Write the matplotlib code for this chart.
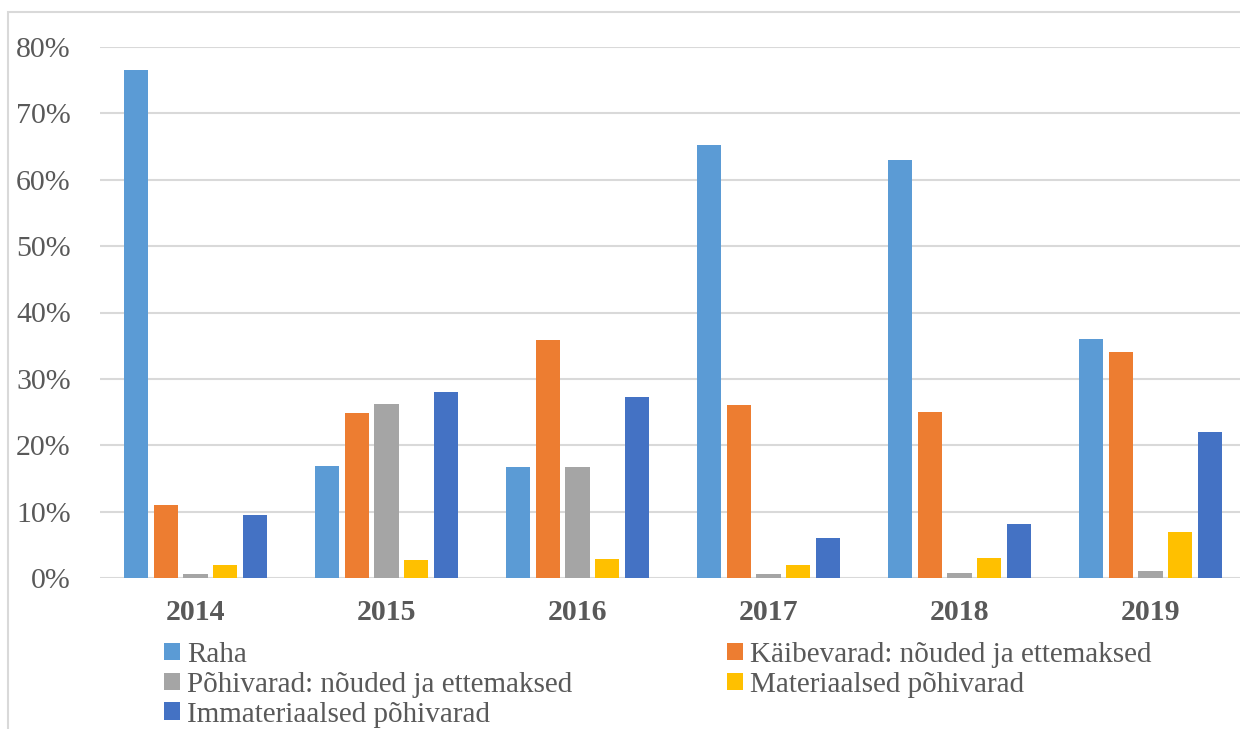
import matplotlib
matplotlib.use("Agg")
import matplotlib.pyplot as plt
import numpy as np
from matplotlib.patches import Rectangle, Patch

plt.rcParams['font.family'] = ['Liberation Serif', 'DejaVu Serif']

years = ["2014", "2015", "2016", "2017", "2018", "2019"]
raha = [76.6, 16.9, 16.7, 65.3, 63.0, 36.0]
kaibevarad = [11.0, 24.8, 35.8, 26.0, 25.0, 34.0]
pohivarad = [0.6, 26.2, 16.7, 0.6, 0.8, 1.0]
materiaalsed = [2.0, 2.7, 2.9, 2.0, 3.0, 6.9]
immateriaalsed = [9.5, 28.0, 27.2, 6.0, 8.2, 22.0]

series_names = ["Raha", "Käibevarad: nõuded ja ettemaksed",
                "Põhivarad: nõuded ja ettemaksed", "Materiaalsed põhivarad",
                "Immateriaalsed põhivarad"]
series_values = [raha, kaibevarad, pohivarad, materiaalsed, immateriaalsed]
colors = ["#5B9BD5", "#ED7D31", "#A5A5A5", "#FFC000", "#4472C4"]

W, H = 1240, 729
fig = plt.figure(figsize=(W / 100, H / 100), dpi=100)

# outer chart frame (runs off the right and bottom edges)
fig.patches.append(Rectangle((8 / W, -0.1), 1.2, (H - 12) / H + 0.1,
                             transform=fig.transFigure, fill=False,
                             edgecolor="#D9D9D9", linewidth=1.5))

ax = fig.add_axes([100 / W, (H - 578) / H, 1146 / W, (578 - 47) / H])

x = np.arange(len(years))
bw = 0.126
step = 0.155
for k, (vals, col, name) in enumerate(zip(series_values, colors, series_names)):
    ax.bar(x + (k - 2) * step, np.array(vals) / 100, width=bw, color=col,
           label=name, zorder=3)

ax.set_xlim(-0.5, len(years) - 0.5)
ax.set_ylim(0, 0.8)
ax.set_yticks(np.arange(0, 0.81, 0.1))
ax.set_yticklabels([f"{int(round(v * 100))}%" for v in np.arange(0, 0.81, 0.1)])
ax.yaxis.grid(True, color="#D9D9D9", linewidth=1.5, zorder=0)
ax.set_axisbelow(True)
for s in ax.spines.values():
    s.set_visible(False)
ax.axhline(0, color="#D9D9D9", linewidth=2, zorder=2)

ax.set_xticks(x)
ax.set_xticklabels(years, fontweight="bold")
ax.tick_params(axis="x", length=0, pad=15, labelsize=21.5, labelcolor="#595959")
ax.tick_params(axis="y", length=0, pad=21, labelsize=21.5, labelcolor="#595959")

handles = [Patch(facecolor=c, edgecolor="none") for c in colors]
order = [0, 2, 4, 1, 3]
leg = fig.legend([handles[i] for i in order], [series_names[i] for i in order],
                 ncol=2, loc="upper left", bbox_to_anchor=(164 / W, (H - 642) / H),
                 frameon=False, fontsize=21, handlelength=0.55, handleheight=0.55,
                 handletextpad=0.25, labelspacing=0.13, columnspacing=5.3,
                 borderpad=0, borderaxespad=0)
for t in leg.get_texts():
    t.set_color("#595959")

fig.savefig("out.png", dpi=100)
